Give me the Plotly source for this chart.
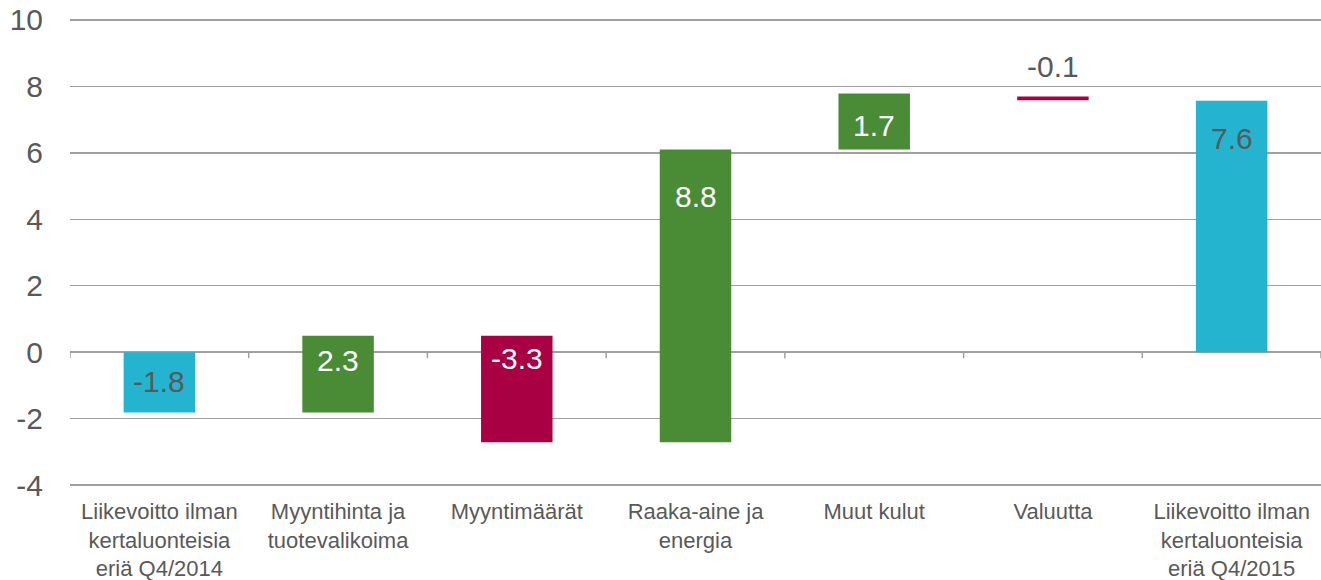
import plotly.graph_objects as go

# ---- data ----
categories = [
    "Liikevoitto ilman<br>kertaluonteisia<br>eriä Q4/2014",
    "Myyntihinta ja<br>tuotevalikoima",
    "Myyntimäärät",
    "Raaka-aine ja<br>energia",
    "Muut kulut",
    "Valuutta",
    "Liikevoitto ilman<br>kertaluonteisia<br>eriä Q4/2015",
]
bar_start = [0.0, -1.82, 0.49, -2.71, 6.10, 7.70, 0.0]
bar_end = [-1.82, 0.49, -2.71, 6.10, 7.79, 7.58, 7.57]
value_labels = ["-1.8", "2.3", "-3.3", "8.8", "1.7", "-0.1", "7.6"]
bar_kind = ["total", "up", "down", "up", "up", "down", "total"]
y_ticks = [-4, -2, 0, 2, 4, 6, 8, 10]

# ---- styles ----
kind_color = {"total": "#25B4D0", "up": "#4A8B35", "down": "#A80042"}
label_color = {"total": "#595959", "up": "#FFFFFF", "down": "#FFFFFF"}
label_shift = [-29, -25, -23, -47, -32, 30, -38]  # px relative to bar top
label_color_override = {5: "#595959"}  # outside label
GRID = "#A0A0A0"
TEXT = "#595959"
FONT = "Liberation Sans, Arial, sans-serif"

bases = [min(a, b) for a, b in zip(bar_start, bar_end)]
heights = [abs(b - a) for a, b in zip(bar_start, bar_end)]
tops = [max(a, b) for a, b in zip(bar_start, bar_end)]
colors = [kind_color[k] for k in bar_kind]

fig = go.Figure()
fig.add_trace(go.Bar(
    x=categories, y=heights, base=bases, width=0.4,
    marker=dict(color=colors, line=dict(width=0)),
    hoverinfo="skip", showlegend=False,
))

for i, cat in enumerate(categories):
    col = label_color_override.get(i, label_color[bar_kind[i]])
    fig.add_annotation(
        x=cat, y=tops[i], xref="x", yref="y", text=value_labels[i],
        showarrow=False, yanchor="middle", yshift=label_shift[i],
        font=dict(family=FONT, size=30, color=col),
    )

# tick marks on the zero line at category boundaries
for i in range(len(categories) + 1):
    fig.add_shape(
        type="line", xref="x", yref="y", x0=i - 0.5, x1=i - 0.5,
        ysizemode="pixel", yanchor=0, y0=0, y1=-6,
        line=dict(color=GRID, width=1.5),
    )

fig.update_layout(
    width=1321, height=580,
    margin=dict(l=70, r=0, t=17.5, b=92.5),
    paper_bgcolor="white", plot_bgcolor="white",
    font=dict(family=FONT, color=TEXT),
    bargap=0.6,
)
fig.update_xaxes(
    type="category", categoryorder="array", categoryarray=categories,
    range=[-0.5, len(categories) - 0.5],
    showgrid=False, showline=False,
    ticks="", ticklabelstandoff=9,
    tickfont=dict(family=FONT, size=22, color=TEXT),
    automargin=False,
)
fig.update_yaxes(
    range=[-4.06, 10.06], tickvals=y_ticks, ticktext=[str(v) for v in y_ticks],
    showgrid=True, gridcolor=GRID, gridwidth=1.5,
    zeroline=True, zerolinecolor=GRID, zerolinewidth=1.5,
    showline=False, ticks="", ticklabelstandoff=26,
    ticklabeloverflow="allow",
    tickfont=dict(family=FONT, size=30, color=TEXT),
    automargin=False,
)

# remove the browser's default body margin so the figure fills the window
fig.write_html(
    "out.html",
    config={"displayModeBar": False, "staticPlot": True},
    post_script="document.body.style.margin='0';document.body.style.overflow='hidden';",
)
